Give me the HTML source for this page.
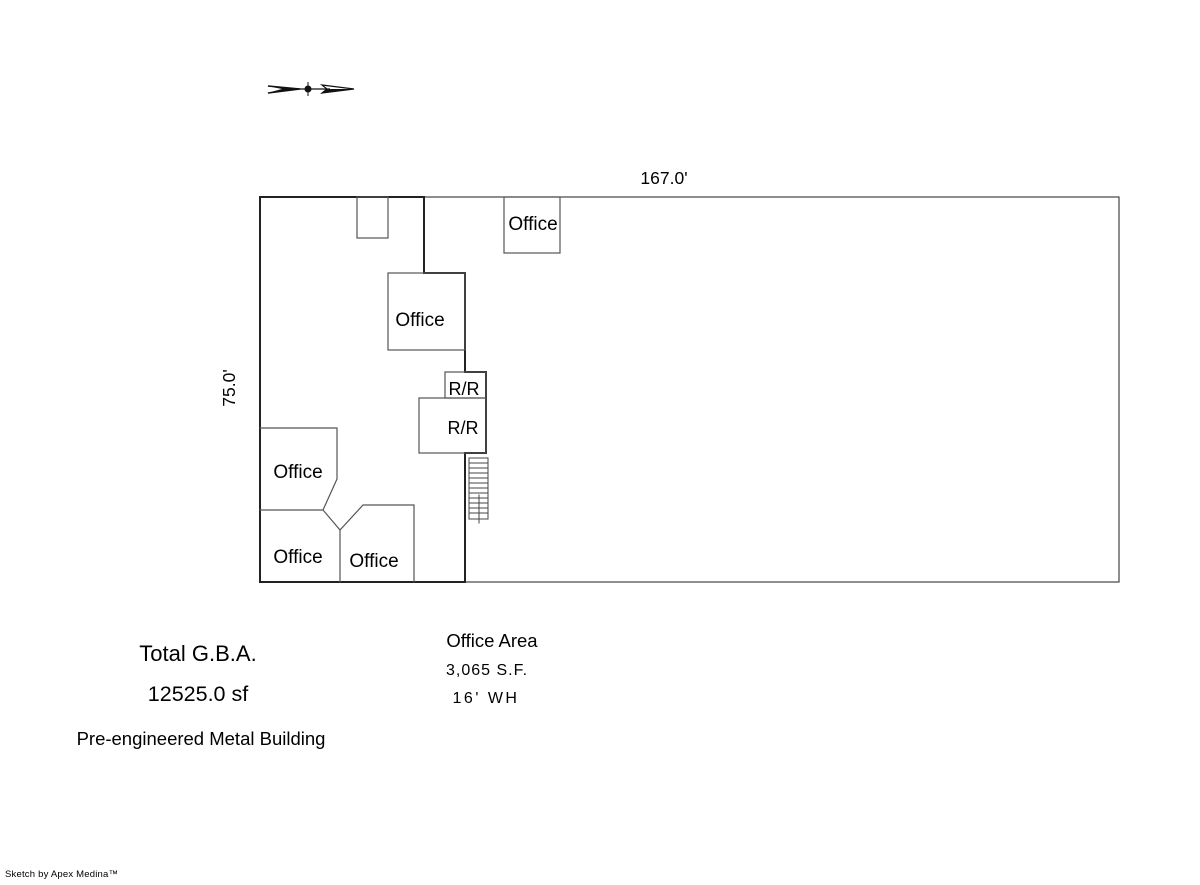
<!DOCTYPE html>
<html><head><style>
body{margin:0;background:#fff;}
svg text{font-family:"Liberation Sans",Arial,sans-serif;fill:#000;}
</style></head><body>
<svg width="1200" height="880" viewBox="0 0 1200 880" xmlns="http://www.w3.org/2000/svg">
<g fill="none" stroke-linecap="square">
<rect x="260" y="197" width="859" height="385" stroke="#444" stroke-width="1.2"/>
<path d="M260 197 H424 M260 197 V582 H465" stroke="#222" stroke-width="2"/>
<rect x="357" y="197" width="31" height="41" stroke="#555" stroke-width="1.2"/>
<path d="M424 197 V273 H465 V372 H486 V453 H465 V582" stroke="#222" stroke-width="2"/>
<rect x="388" y="273" width="77" height="77" stroke="#555" stroke-width="1.2"/>
<rect x="445" y="372" width="41" height="26" stroke="#555" stroke-width="1.2"/>
<rect x="419" y="398" width="67" height="55" stroke="#555" stroke-width="1.2"/>
<rect x="504" y="197" width="56" height="56" stroke="#555" stroke-width="1.2"/>
<path d="M260 428 H337 V479 L323 510 H260 M323 510 L340 530 V582 M340 530 L363 505 H414 V582" stroke="#555" stroke-width="1.2"/>
<rect x="469" y="458" width="19" height="61" stroke="#444" stroke-width="1"/>
<path d="M469 463H488M469 468H488M469 473H488M469 478H488M469 483H488M469 488H488M469 493H488M469 498H488M469 503H488M469 508H488M469 513H488M479 495V523" stroke="#444" stroke-width="1"/>
</g>
<polygon points="267,86 300,89 267,93 282,89" fill="#111"/>
<path d="M268 86 L300 89 L268 93" fill="none" stroke="#111" stroke-width="1.5"/>
<line x1="296" y1="89" x2="330" y2="89" stroke="#111" stroke-width="1.2"/>
<circle cx="308" cy="89" r="3.5" fill="#111"/>
<line x1="308" y1="82" x2="308" y2="96" stroke="#111" stroke-width="1"/>
<polygon points="322,85 354,89 322,93 327,89" fill="none" stroke="#111" stroke-width="1.2"/>
<polygon points="327,89 354,89 322,93" fill="#111"/>
<g font-size="19">
<text x="664" y="184" text-anchor="middle" font-size="17.5">167.0'</text>
<text transform="translate(235,388) rotate(-90)" text-anchor="middle" font-size="17.5">75.0'</text>
<text x="533" y="230" text-anchor="middle">Office</text>
<text x="420" y="326" text-anchor="middle">Office</text>
<text x="464" y="395" text-anchor="middle" font-size="18">R/R</text>
<text x="463" y="434" text-anchor="middle" font-size="18">R/R</text>
<text x="298" y="478" text-anchor="middle">Office</text>
<text x="298" y="563" text-anchor="middle">Office</text>
<text x="374" y="567" text-anchor="middle">Office</text>
<text x="492" y="647" text-anchor="middle" font-size="18.5">Office Area</text>
<text x="487" y="675" text-anchor="middle" font-size="16" letter-spacing="1">3,065 S.F.</text>
<text x="486" y="703" text-anchor="middle" font-size="16" letter-spacing="2.5">16' WH</text>
<text x="198" y="661" text-anchor="middle" font-size="22">Total G.B.A.</text>
<text x="198" y="701" text-anchor="middle" font-size="21.5">12525.0 sf</text>
<text x="201" y="745" text-anchor="middle" font-size="18.5">Pre-engineered Metal Building</text>
<text x="5" y="877" font-size="9.5" letter-spacing="0.2">Sketch by Apex Medina™</text>
</g>
</svg>
</body></html>
